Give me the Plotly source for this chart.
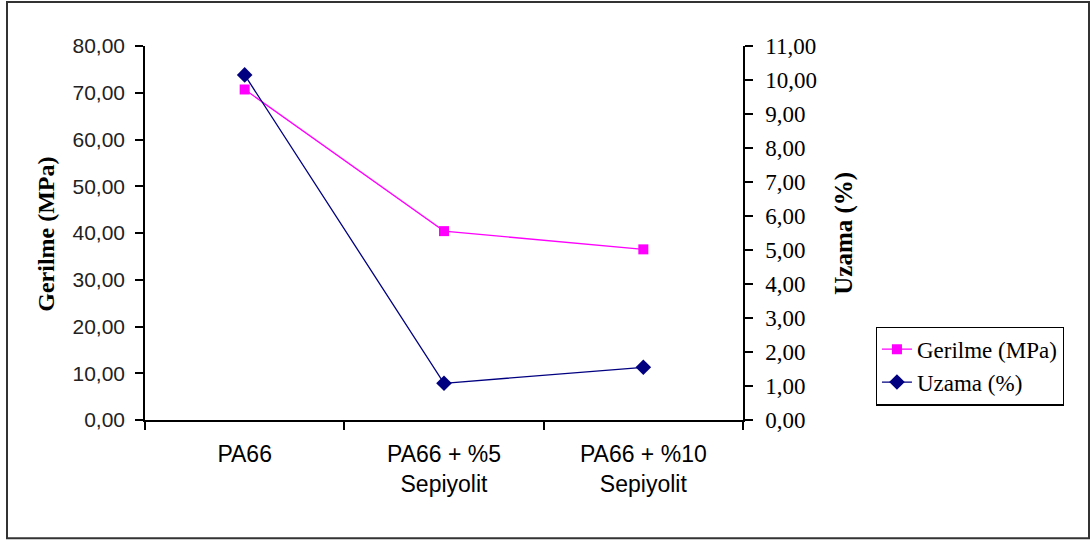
import plotly.graph_objects as go

categories = ["PA66", "PA66 + %5<br>Sepiyolit", "PA66 + %10<br>Sepiyolit"]
gerilme = [70.7, 40.4, 36.5]
uzama = [10.15, 1.08, 1.55]

SANS = "Liberation Sans, Arial, sans-serif"
SERIF = "Liberation Serif, Times New Roman, serif"

fig = go.Figure()
fig.add_trace(go.Scatter(
    x=categories, y=gerilme, name="Gerilme (MPa)", mode="lines+markers",
    line=dict(color="#FF00FF", width=1.3),
    marker=dict(symbol="square", size=10, color="#FF00FF"),
))
fig.add_trace(go.Scatter(
    x=categories, y=uzama, name="Uzama (%)", mode="lines+markers", yaxis="y2",
    line=dict(color="#000080", width=1.3),
    marker=dict(symbol="diamond", size=12, color="#000080"),
))

axis_common = dict(showgrid=False, zeroline=False, showline=True, linecolor="#000000",
                   linewidth=1.5, ticks="outside", ticklen=8, tickcolor="#000000", tickwidth=1.5)

fig.update_layout(
    width=1091, height=541,
    margin=dict(l=145, r=348, t=46, b=120.5),
    paper_bgcolor="white", plot_bgcolor="white",
    separators=",.",
    showlegend=True,
    legend=dict(x=1.222, y=0.25, xanchor="left", yanchor="top",
                bordercolor="#000000", borderwidth=1.2, bgcolor="white",
                font=dict(family=SERIF, size=23, color="#000000")),
    xaxis=dict(type="category", tickson="boundaries", range=[-0.5, 2.5], domain=[0, 1],
               tickfont=dict(family=SANS, size=23, color="#000000"),
               ticklabelstandoff=13, **axis_common),
    yaxis=dict(range=[0, 80], dtick=10, tick0=0, tickformat=".2f",
               tickfont=dict(family=SANS, size=21, color="#222222"),
               ticklabelstandoff=6, **axis_common),
    yaxis2=dict(range=[0, 11], dtick=1, tick0=0, tickformat=".2f", overlaying="y",
                side="right", anchor="x",
                tickfont=dict(family=SERIF, size=23, color="#000000"),
                ticklabelstandoff=8, **axis_common),
    # inner halves of the crossing tick marks
    xaxis2=dict(overlaying="x", range=[-0.5, 2.5], tickvals=[-0.5, 0.5, 1.5, 2.5],
                showticklabels=False, ticks="inside", ticklen=6, tickwidth=1.5,
                tickcolor="#000000", showgrid=False, zeroline=False, showline=False,
                anchor="y", side="bottom"),
    yaxis3=dict(overlaying="y", range=[0, 80], dtick=10, showticklabels=False,
                ticks="inside", ticklen=3, tickwidth=1.5, tickcolor="#000000",
                showgrid=False, zeroline=False, showline=False, side="left", anchor="x"),
    yaxis4=dict(overlaying="y", range=[0, 11], dtick=1, showticklabels=False,
                ticks="inside", ticklen=7, tickwidth=1.5, tickcolor="#000000",
                showgrid=False, zeroline=False, showline=False, side="right", anchor="x"),
)

fig.add_annotation(text="<b>Gerilme (MPa)</b>", xref="paper", yref="paper",
                   x=(46 - 145) / 598, y=(420.5 - 235) / 374.5, textangle=-90,
                   xanchor="center", yanchor="middle",
                   showarrow=False, font=dict(family=SERIF, size=24, color="#000000"))
fig.add_annotation(text="<b>Uzama (%)</b>", xref="paper", yref="paper",
                   x=(844 - 145) / 598, y=(420.5 - 234) / 374.5, textangle=-90,
                   xanchor="center", yanchor="middle",
                   showarrow=False, font=dict(family=SERIF, size=25, color="#000000"))

fig.add_shape(type="rect", xref="paper", yref="paper",
              x0=(7 - 145) / 598, x1=(1089 - 145) / 598,
              y0=(420.5 - 539) / 374.5, y1=(420.5 - 2) / 374.5,
              line=dict(color="#333333", width=2), layer="below")

fig.write_html("out.html")
